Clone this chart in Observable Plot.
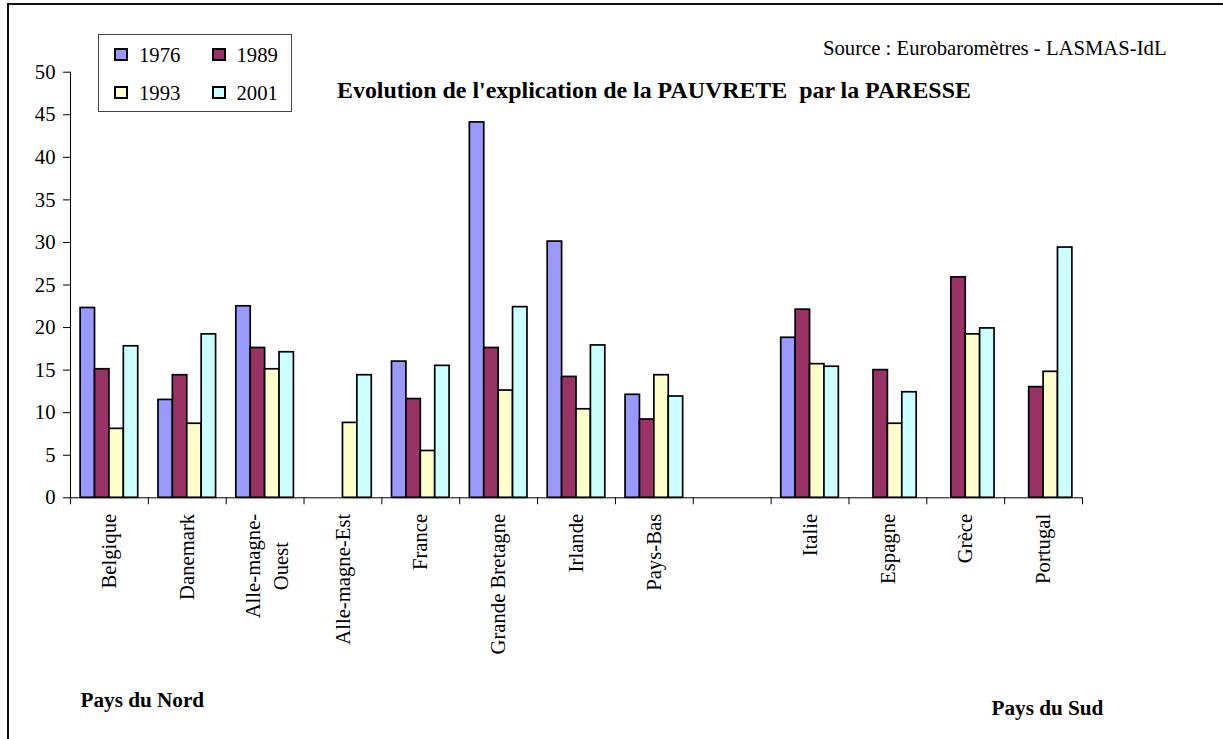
<!DOCTYPE html>
<html><head><meta charset="utf-8">
<script src="https://cdn.jsdelivr.net/npm/d3@7"></script>
<script src="https://cdn.jsdelivr.net/npm/@observablehq/plot@0.6"></script>
<style>
html,body{margin:0;padding:0;background:#fff;overflow:hidden;}
#wrap{position:relative;width:1223px;height:739px;overflow:hidden;font-family:"Liberation Serif","Times New Roman",serif;color:#000;}
#wrap svg{position:absolute;left:0;top:0;}
#border{position:absolute;left:7px;top:3px;width:1400px;height:900px;border:2px solid #111;box-sizing:border-box;pointer-events:none;}
.t{position:absolute;white-space:pre;line-height:1;}
#title{left:337px;top:79.3px;font-size:23.9px;font-weight:bold;}
#source{left:823px;top:37.7px;font-size:20.7px;}
#nord{left:80.5px;top:690.4px;font-size:21.2px;font-weight:bold;}
#sud{left:991.5px;top:698.4px;font-size:21.2px;font-weight:bold;}
#legend{position:absolute;left:98px;top:34px;width:194px;height:78px;border:1px solid #444;box-sizing:border-box;background:#fff;}
.sw{position:absolute;width:14px;height:13px;border:2px solid #000;box-sizing:border-box;}
.lt{position:absolute;font-size:20.7px;line-height:1;white-space:pre;font-family:"Liberation Serif","Times New Roman",serif;}
</style></head>
<body>
<div id="wrap">
  <div id="border"></div>
  <div id="legend"></div>
  <div class="t" id="title">Evolution de l'explication de la PAUVRETE  par la PARESSE</div>
  <div class="t" id="source">Source : Eurobaromètres - LASMAS-IdL</div>
  <div class="t" id="nord">Pays du Nord</div>
  <div class="t" id="sud">Pays du Sud</div>
</div>
<script>
// ---- data ----
const categories = ["Belgique","Danemark","Alle-magne-\nOuest","Alle-magne-Est","France","Grande Bretagne","Irlande","Pays-Bas","","Italie","Espagne","Grèce","Portugal"];
const years = ["1976","1989","1993","2001"];
const v1976 = [22.3, 11.5, 22.5, null, 16.0, 44.1, 30.1, 12.1, null, 18.8, null, null, null];
const v1989 = [15.1, 14.4, 17.6, null, 11.6, 17.6, 14.2, 9.2, null, 22.1, 15.0, 25.9, 13.0];
const v1993 = [8.1, 8.7, 15.1, 8.8, 5.5, 12.6, 10.4, 14.4, null, 15.7, 8.7, 19.2, 14.8];
const v2001 = [17.8, 19.2, 17.1, 14.4, 15.5, 22.4, 17.9, 11.9, null, 15.4, 12.4, 19.9, 29.4];
const colors = ["#9999FF", "#993366", "#FFFFCC", "#CCFFFF"];
const yTicks = [0, 5, 10, 15, 20, 25, 30, 35, 40, 45, 50];

// ---- table ----
const series = [v1976, v1989, v1993, v2001];
const rows = [];
categories.forEach((c, i) => years.forEach((yr, k) => {
  const v = series[k][i];
  if (v != null) rows.push({cat: c, idx: i, year: yr, value: v});
}));

const slot = d3.scaleBand().domain(years).range([0.13, 0.87]);

const FS = 20.7;
const ctx = document.createElement("canvas").getContext("2d");
ctx.font = FS + "px 'Liberation Serif'";
const measure = s => ctx.measureText(s).width;

const idxSingle = categories.map((c, i) => i).filter(i => categories[i] && !categories[i].includes("\n"));
const idxMulti = categories.map((c, i) => i).filter(i => categories[i].includes("\n"));
const gap = 16;
const multiMarks = idxMulti.map(i => {
  const w = d3.max(categories[i].split("\n"), measure);
  return Plot.text([i], {x: d => d + 0.5, y: () => 0, text: d => categories[d], rotate: -90,
    textAnchor: "middle", lineAnchor: "middle", lineHeight: 1.37, dy: gap + w / 2, fill: "#000"});
});

const chart = Plot.plot({
  width: 1223, height: 739,
  marginLeft: 70, marginRight: 141, marginTop: 71.7, marginBottom: 241.7,
  style: {background: "transparent", fontFamily: "'Liberation Serif', 'Times New Roman', serif", fontSize: FS + "px", color: "#000"},
  x: {type: "linear", domain: [0, categories.length], ticks: d3.range(0, categories.length + 1), tickFormat: () => "", tickSize: 7, label: null},
  y: {domain: [0, 50], ticks: yTicks, tickSize: 7, tickPadding: 8, label: null},
  color: {domain: years, range: colors},
  marks: [
    Plot.rect(rows, {
      x1: d => d.idx + slot(d.year),
      x2: d => d.idx + slot(d.year) + slot.bandwidth(),
      y1: 0, y2: "value",
      fill: "year", stroke: "#000", strokeWidth: 1.7
    }),
    Plot.ruleX([0], {stroke: "#000"}),
    Plot.ruleY([0], {stroke: "#000"}),
    Plot.text(idxSingle, {x: d => d + 0.5, y: () => 0, text: d => categories[d], rotate: -90,
      textAnchor: "end", lineAnchor: "middle", dy: gap, fill: "#000"}),
    ...multiMarks
  ]
});
const wrap = document.getElementById("wrap");
wrap.insertBefore(chart, wrap.firstChild);

// ---- legend ----
const legend = document.getElementById("legend");
const legPos = [[16, 14], [113.5, 14], [16, 52], [113.5, 52]];
years.forEach((yr, k) => {
  const [lx, ly] = legPos[k];
  const sw = document.createElement("div");
  sw.className = "sw";
  sw.style.left = (lx - 1) + "px"; sw.style.top = (ly - 1) + "px";
  sw.style.background = colors[k];
  legend.appendChild(sw);
  const t = document.createElement("div");
  t.className = "lt";
  t.textContent = yr;
  t.style.left = (lx + 24) + "px"; t.style.top = (ly - 3.9) + "px";
  legend.appendChild(t);
});
</script>
</body></html>
